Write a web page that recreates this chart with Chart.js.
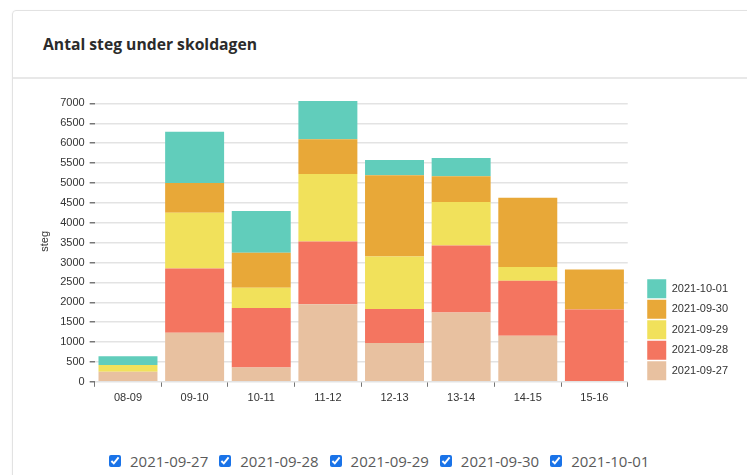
<!DOCTYPE html>
<html>
<head>
<meta charset="utf-8">
<script src="https://cdn.jsdelivr.net/npm/chart.js@4.4.0/dist/chart.umd.min.js"></script>
<style>
  body { margin: 0; background: #fff; font-family: "Open Sans", sans-serif; }
  .card {
    position: absolute; left: 12px; top: 10px; width: 780px; height: 500px;
    border: 1px solid #e2e2e2; border-radius: 4px; box-shadow: 0 1px 3px rgba(0,0,0,0.05);
  }
  .card-head {
    height: 66px; border-bottom: 2px solid #e8e8e8;
  }
  .card-head h3 {
    margin: 0; padding-left: 30px; line-height: 66px;
    font-size: 15.7px; font-weight: 700; color: #2b2b2b;
  }
  #wrap { position: absolute; left: 30px; top: 88px; width: 710px; height: 322px; }
  .toggles {
    position: absolute; left: 109px; top: 451px; display: flex;
    font-size: 15px; color: #5a5a5a;
  }
  .toggles label { display: flex; align-items: center; margin-right: 11px; }
  .toggles input { width: 12px; height: 12px; margin: 0 9px 0 0; accent-color: #1a73e8; }
</style>
</head>
<body>
<div class="card">
  <div class="card-head"><h3>Antal steg under skoldagen</h3></div>
</div>
<div id="wrap"><canvas id="myChart"></canvas></div>
<div class="toggles" id="toggles"></div>

<script>
  var labels = ['08-09', '09-10', '10-11', '11-12', '12-13', '13-14', '14-15', '15-16'];
  var days = ['2021-09-27', '2021-09-28', '2021-09-29', '2021-09-30', '2021-10-01'];
  var colors = ['#e8c1a0', '#f47560', '#f1e15b', '#e8a838', '#61cdbb'];
  var yTicks = [0, 500, 1000, 1500, 2000, 2500, 3000, 3500, 4000, 4500, 5000, 5500, 6000, 6500, 7000];

  var d0927 = [250, 1235, 360, 1950, 975, 1740, 1160, 0];
  var d0928 = [0, 1613, 1497, 1580, 858, 1690, 1380, 1815];
  var d0929 = [170, 1404, 505, 1697, 1318, 1090, 345, 0];
  var d0930 = [0, 747, 882, 874, 2042, 650, 1740, 1010];
  var d1001 = [220, 1286, 1049, 958, 386, 460, 0, 0];

  var series = [d0927, d0928, d0929, d0930, d1001];

  var font = { family: '"Liberation Sans", Arial, sans-serif', size: 11 };

  var datasets = series.map(function (s, i) {
    return {
      label: days[i],
      data: s,
      backgroundColor: colors[i],
      borderWidth: 0,
      categoryPercentage: 0.885,
      barPercentage: 1.0
    };
  });

  // checkbox row under the chart
  var box = document.getElementById('toggles');
  days.forEach(function (d) {
    var l = document.createElement('label');
    l.innerHTML = '<input type="checkbox" checked><span>' + d + '</span>';
    box.appendChild(l);
  });

  var config = {
    type: 'bar',
    data: { labels: labels, datasets: datasets },
    options: {
      animation: false,
      responsive: true,
      maintainAspectRatio: false,
      events: [],
      layout: { padding: { left: 4, top: 13, right: 2, bottom: 0 } },
      plugins: {
        tooltip: { enabled: false },
        legend: {
          position: 'right',
          align: 'end',
          fullSize: false,
          reverse: true,
          labels: {
            boxWidth: 19,
            boxHeight: 19,
            padding: 1.5,
            color: '#333',
            font: font
          }
        }
      },
      scales: {
        x: {
          stacked: true,
          border: { display: false },
          grid: { drawOnChartArea: false, drawTicks: true, tickLength: 5, tickColor: '#777' },
          ticks: { color: '#333', font: font, padding: 5 }
        },
        y: {
          stacked: true,
          min: 0,
          max: 7060,
          border: { display: false },
          grid: { color: '#e3e3e3', lineWidth: 1.5, tickLength: 5, tickColor: '#777' },
          afterBuildTicks: function (s) {
            s.ticks = yTicks.map(function (v) { return { value: v }; });
          },
          ticks: {
            color: '#333', font: font, padding: 5,
            callback: function (v) { return String(v); }
          },
          title: { display: true, text: 'steg', color: '#333', font: font }
        },
        gap: {
          position: 'right',
          display: true,
          border: { display: false },
          grid: { display: false },
          ticks: { display: false },
          afterFit: function (s) { s.width = 18; }
        }
      }
    }
  };

  var myChart = new Chart(document.getElementById('myChart'), config);
</script>
</body>
</html>
